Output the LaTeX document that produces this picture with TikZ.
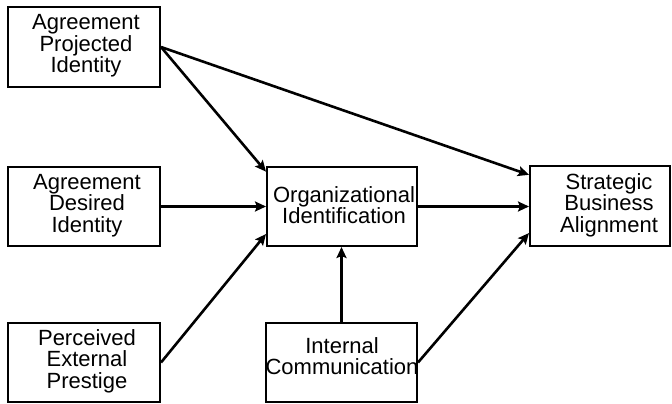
\documentclass[tikz,border=0pt]{standalone}
\usepackage{fontspec}
\setmainfont{Liberation Sans}
\usetikzlibrary{arrows.meta,calc}

\begin{document}
\begin{tikzpicture}[x=1pt,y=-1pt,
  box/.style={draw=black, line width=1.6pt, rectangle, inner sep=0pt},
  txt/.style={align=center, inner sep=0pt,
    font=\fontsize{22}{21.5}\selectfont},
  link/.style={line width=2.6pt, -{Stealth[length=11pt,width=10pt,inset=2pt]}}
]
\useasboundingbox (0,0) rectangle (672,404);

% boxes
\node[box, minimum width=152.4pt, minimum height=80.4pt] (api) at (84,47) {};
\node[box, minimum width=152.4pt, minimum height=79.4pt] (adi) at (84,206.5) {};
\node[box, minimum width=152.4pt, minimum height=79.4pt] (pep) at (84,362.5) {};
\node[box, minimum width=150.4pt, minimum height=79.4pt] (oi) at (342,206.5) {};
\node[box, minimum width=140.4pt, minimum height=80.4pt] (sba) at (600,206) {};
\node[box, minimum width=151.4pt, minimum height=79.4pt] (ic) at (341.5,362.5) {};

% box texts
\node[txt] (apit) at (86,46) {Agreement\\Projected\\Identity};
\node[txt] (adit) at (87,205.5) {Agreement\\Desired\\Identity};
\node[txt] (pept) at (87,361) {Perceived\\External\\Prestige};
\node[txt] (oit) at (344,205) {Organizational\\Identification};
\node[txt] (sbat) at (609,205) {Strategic\\Business\\Alignment};
\node[txt] (ict) at (342,356) {Internal\\Communication};

% connectors
\draw[link] (api.east) -- ($(oi.north west)!0.07!(oi.south west)$);
\draw[link] (api.east) -- ($(sba.north west)!0.12!(sba.south west)$);
\draw[link] (adi.east) -- (adi.east -| oi.west);
\draw[link] (pep.east) -- ($(oi.north west)!0.84!(oi.south west)$);
\draw[link] (oi.east) -- (oi.east -| sba.west);
\draw[link] (ic.north) -- (ic.north |- oi.south);
\draw[link] (ic.east) -- ($(sba.north west)!0.83!(sba.south west)$);
\end{tikzpicture}
\end{document}
